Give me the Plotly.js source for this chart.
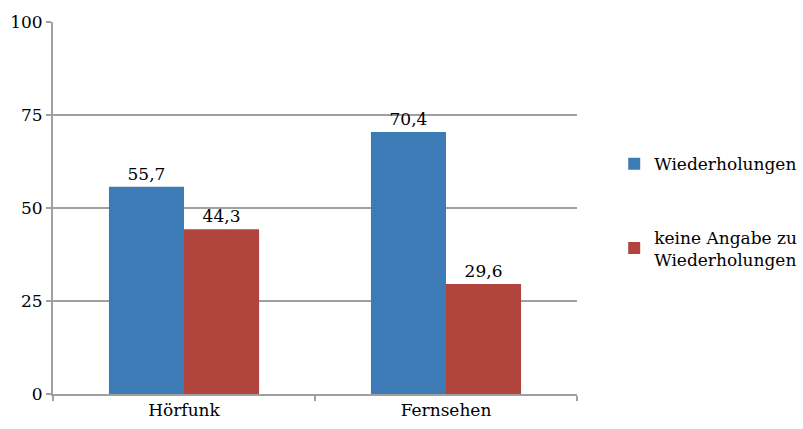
<!DOCTYPE html>
<html><head><meta charset="utf-8">
<script src="https://cdn.plot.ly/plotly-3.0.1.min.js"></script>
<style>html,body{margin:0;padding:0;background:#fff}</style>
</head><body><div id="chart" style="width:803px;height:429px"></div>
<script>
const categories = ["Hörfunk", "Fernsehen"];
const seriesNames = ["Wiederholungen", "keine Angabe zu<br>Wiederholungen"];
const wiederholungen = [55.7, 70.4];
const keineAngabe = [44.3, 29.6];
const yTicks = [0, 25, 50, 75, 100];

const fontFam = "DejaVu Serif, Liberation Serif, serif";
const fs = 17;
const colors = ["#3d7bb6", "#b1443d"];
const vals = [wiederholungen, keineAngabe];

const traces = vals.map((v, i) => ({
  type: "bar",
  x: categories,
  y: v,
  name: seriesNames[i],
  legendgroup: "g" + i,
  marker: {color: colors[i], line: {width: 0}},
  text: v.map(n => n.toFixed(1).replace(".", ",")),
  textposition: "outside",
  textfont: {family: fontFam, size: fs, color: "#000"},
  cliponaxis: false,
  hoverinfo: "none"
}));

const layout = {
  width: 803, height: 429,
  margin: {l: 53, r: 226, t: 22, b: 35, autoexpand: false},
  barmode: "group",
  bargap: 0.427,
  bargroupgap: 0,
  separators: ",.",
  font: {family: fontFam, size: fs, color: "#000"},
  paper_bgcolor: "#fff", plot_bgcolor: "#fff",
  xaxis: {
    tickson: "boundaries",
    ticks: "outside", ticklen: 5, tickcolor: "#a0a0a0", tickwidth: 2,
    showline: true, linecolor: "#a0a0a0", linewidth: 2,
    showgrid: false,
    tickfont: {family: fontFam, size: fs, color: "#000"}
  },
  yaxis: {
    range: [0, 100],
    tickvals: yTicks,
    ticktext: yTicks.map(String),
    ticks: "outside", ticklen: 5, tickcolor: "#a0a0a0", tickwidth: 2,
    showline: true, linecolor: "#a0a0a0", linewidth: 2,
    showgrid: true, gridcolor: "#a0a0a0", gridwidth: 2,
    zeroline: false,
    tickfont: {family: fontFam, size: fs, color: "#000"}
  },
  legend: {
    x: 1.071, xanchor: "left", y: 0.49, yanchor: "middle",
    font: {family: fontFam, size: fs, color: "#000"},
    tracegroupgap: 48,
    itemwidth: 30
  },
  showlegend: true
};

Plotly.newPlot("chart", traces, layout, {displayModeBar: false, staticPlot: true});
</script>
</body></html>
